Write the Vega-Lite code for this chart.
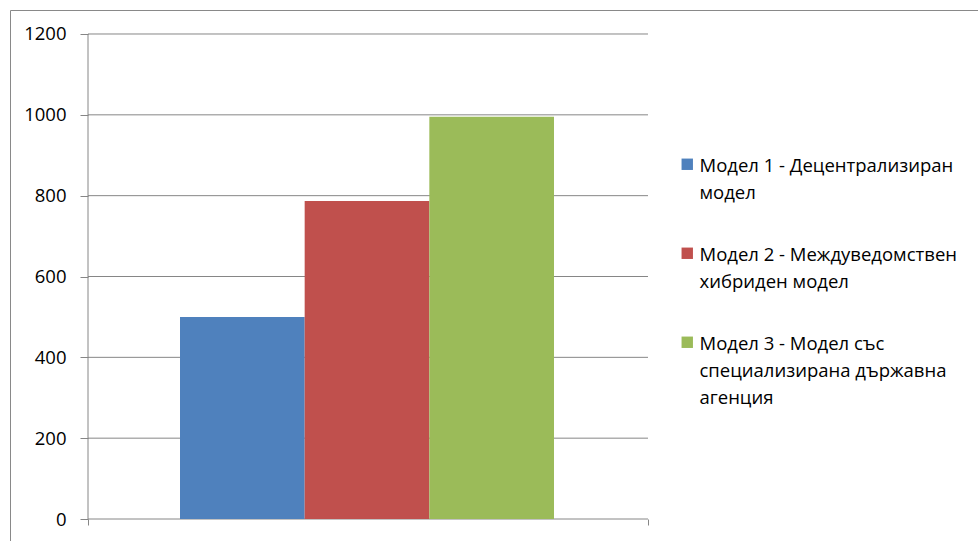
{
  "$schema": "https://vega.github.io/schema/vega-lite/v6.json",
  "width": 975,
  "height": 538,
  "autosize": {"type": "none"},
  "padding": {"left": 10, "top": 10, "right": -7, "bottom": -7},
  "background": "white",
  "config": {
    "view": {"stroke": "#898989", "strokeWidth": 1},
    "font": "Open Sans",
    "style": {"guide-label": {"lineHeight": 27}}
  },
  "datasets": {
    "grid": [{"v": 0}, {"v": 200}, {"v": 400}, {"v": 600}, {"v": 800}, {"v": 1000}, {"v": 1200}],
    "bars": [
      {"model": "Модел 1 - Децентрализиран модел", "value": 500},
      {"model": "Модел 2 - Междуведомствен хибриден модел", "value": 787},
      {"model": "Модел 3 - Модел със специализирана държавна агенция", "value": 995}
    ]
  },
  "layer": [
    {
      "data": {"name": "grid"},
      "mark": {"type": "rule", "color": "#868686", "strokeWidth": 1},
      "encoding": {
        "x": {"datum": 0, "type": "quantitative",
          "scale": {"domain": [-0.13929, 1.60179], "nice": false, "zero": false},
          "axis": {"values": [0, 1], "orient": "bottom", "offset": -29, "domain": false, "grid": false, "labels": false, "ticks": true, "tickSize": 6, "tickColor": "#868686", "title": null}},
        "x2": {"datum": 1},
        "y": {"field": "v", "type": "quantitative",
          "scale": {"domain": [-71.75, 1259.38], "nice": false, "zero": false},
          "axis": {"values": [0, 200, 400, 600, 800, 1000, 1200], "format": "d", "orient": "left", "offset": -78, "domain": false, "grid": false, "tickSize": 8, "tickColor": "#868686", "labelPadding": 14, "labelFontSize": 18.5, "labelColor": "#000000", "labelFont": "Open Sans", "title": null}}
      }
    },
    {
      "data": {"name": "bars"},
      "mark": {"type": "bar", "stroke": null},
      "encoding": {
        "x": {"datum": "g", "type": "nominal",
          "scale": {"paddingInner": 0, "paddingOuter": 0.8035, "align": 0.28286},
          "axis": null},
        "xOffset": {"field": "model", "type": "nominal", "sort": null,
          "scale": {"paddingInner": 0, "paddingOuter": 0}},
        "y": {"field": "value", "type": "quantitative",
          "scale": {"domain": [-71.75, 1259.38], "nice": false, "zero": false},
          "axis": null},
        "color": {"field": "model", "type": "nominal",
          "scale": {"domain": ["Модел 1 - Децентрализиран модел", "Модел 2 - Междуведомствен хибриден модел", "Модел 3 - Модел със специализирана държавна агенция"],
            "range": ["#4F81BD", "#C0504D", "#9BBB59"]},
          "legend": {
            "orient": "none", "legendX": 668, "legendY": 138, "title": null, "padding": 0,
            "symbolType": "M-1,0.23H1V2.23H-1Z", "symbolSize": 130, "symbolStrokeWidth": 0, "labelOffset": 3,
            "labelFontSize": 18.5, "labelFont": "Open Sans", "labelColor": "#000000", "labelLimit": 400,
            "rowPadding": 34, "labelBaseline": "top",
            "labelExpr": "datum.value == 'Модел 1 - Децентрализиран модел' ? ['Модел 1 - Децентрализиран', 'модел'] : datum.value == 'Модел 2 - Междуведомствен хибриден модел' ? ['Модел 2 - Междуведомствен', 'хибриден модел'] : ['Модел 3 - Модел със', 'специализирана държавна', 'агенция']"
          }}
      }
    },
    {
      "data": {"name": "grid"},
      "mark": {"type": "rule", "color": "#868686", "strokeWidth": 1},
      "encoding": {
        "x": {"datum": 0, "type": "quantitative",
          "scale": {"domain": [-0.13929, 1.60179], "nice": false, "zero": false},
          "axis": null},
        "y": {"aggregate": "min", "field": "v", "type": "quantitative", "axis": null},
        "y2": {"aggregate": "max", "field": "v"}
      }
    }
  ],
  "resolve": {"scale": {"x": "independent"}, "axis": {"x": "independent", "y": "independent"}}
}
